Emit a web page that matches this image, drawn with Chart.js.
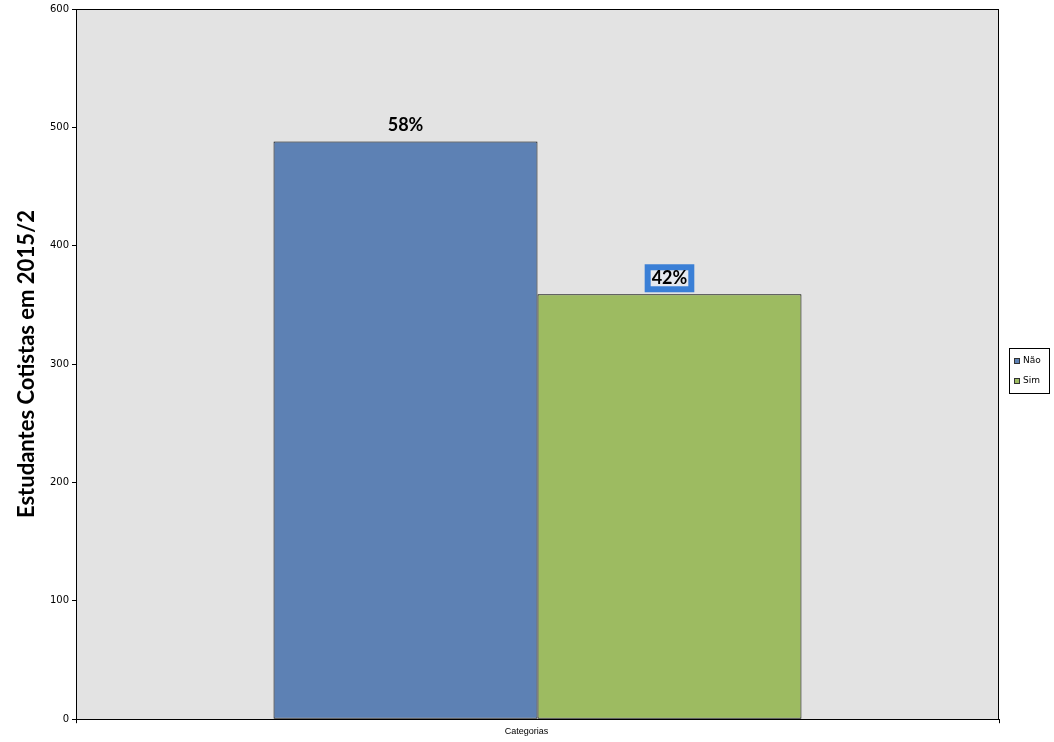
<!DOCTYPE html>
<html>
<head>
<meta charset="utf-8">
<script src="https://cdn.jsdelivr.net/npm/chart.js@4.4.1/dist/chart.umd.min.js"></script>
<style>
  html, body { margin: 0; padding: 0; background: #ffffff; }
  #wrap { width: 1054px; height: 742px; position: relative; }
</style>
</head>
<body>
<div id="wrap"><canvas id="chart"></canvas></div>
<script>
const categories = ['Categorias']
const seriesNames = ['Não', 'Sim']
const naoValues = [488]
const simValues = [359]
const yTicks = [0, 100, 200, 300, 400, 500, 600]

const COLORS = {
  nao: '#5d81b4',
  sim: '#9dbb61',
  plotBg: '#e3e3e3',
  highlight: '#3a7fd6',
  line: '#000000'
}

const total = naoValues[0] + simValues[0]

function pct(v) {
  return Math.round(v / total * 100) + '%'
}

// plot background + frame
const plotFrame = {
  id: 'plotFrame',
  beforeDraw(chart) {
    const { ctx, chartArea: a } = chart
    ctx.save()
    ctx.fillStyle = COLORS.plotBg
    ctx.fillRect(a.left, a.top, a.right - a.left, a.bottom - a.top)
    ctx.restore()
  },
  afterDraw(chart) {
    const { ctx, chartArea: a } = chart
    ctx.save()
    ctx.strokeStyle = COLORS.line
    ctx.lineWidth = 1
    ctx.strokeRect(Math.round(a.left) + 0.5, Math.round(a.top) + 0.5,
      Math.round(a.right - a.left) - 1, Math.round(a.bottom - a.top))
    ctx.restore()
  }
}

// percentage labels above bars
const pctLabels = {
  id: 'pctLabels',
  afterDatasetsDraw(chart) {
    const { ctx } = chart
    ctx.save()
    ctx.font = 'bold 18px Lato, "Open Sans", sans-serif'
    ctx.textAlign = 'center'
    ctx.textBaseline = 'middle'
    chart.data.datasets.forEach((ds, i) => {
      const bar = chart.getDatasetMeta(i).data[0]
      const text = pct(ds.data[0])
      const y = bar.y - 16
      if (i === 1) {
        const w = ctx.measureText(text).width
        ctx.fillStyle = COLORS.highlight
        ctx.fillRect(bar.x - w / 2 - 7, y - 14, w + 14, 28)
        ctx.fillStyle = '#e6e9ee'
        ctx.fillRect(bar.x - w / 2 - 1, y - 8, w + 2, 16)
      }
      ctx.fillStyle = '#000000'
      ctx.fillText(text, bar.x, y)
    })
    ctx.restore()
  }
}

// boxed legend at right
const boxLegend = {
  id: 'boxLegend',
  afterDraw(chart) {
    const { ctx, chartArea: a } = chart
    const left = Math.round(a.right) + 10
    const mid = Math.round((a.top + a.bottom) / 2) + 6
    const top = mid - 22
    ctx.save()
    ctx.strokeStyle = '#000000'
    ctx.lineWidth = 1
    ctx.strokeRect(left + 0.5, top + 0.5, 40, 45)
    ctx.font = '9px "DejaVu Sans", sans-serif'
    ctx.textBaseline = 'middle'
    ctx.textAlign = 'left'
    chart.data.datasets.forEach((ds, i) => {
      const cy = top + 13 + i * 20
      ctx.fillStyle = ds.backgroundColor
      ctx.fillRect(left + 5, cy - 3, 6, 6)
      ctx.strokeStyle = '#333333'
      ctx.strokeRect(left + 5.5, cy - 2.5, 5, 5)
      ctx.fillStyle = '#000000'
      ctx.fillText(ds.label, left + 14, cy)
    })
    ctx.restore()
  }
}

new Chart(document.getElementById('chart'), {
  type: 'bar',
  data: {
    labels: categories,
    datasets: [
      {
        label: seriesNames[0],
        data: naoValues,
        backgroundColor: COLORS.nao,
        borderColor: COLORS.line,
        borderWidth: 1,
        borderSkipped: false,
        categoryPercentage: 0.572,
        barPercentage: 1
      },
      {
        label: seriesNames[1],
        data: simValues,
        backgroundColor: COLORS.sim,
        borderColor: COLORS.line,
        borderWidth: 1,
        borderSkipped: false,
        categoryPercentage: 0.572,
        barPercentage: 1
      }
    ]
  },
  options: {
    responsive: true,
    maintainAspectRatio: false,
    animation: false,
    layout: { padding: { top: 5, right: 55, bottom: 2, left: 0 } },
    plugins: {
      legend: { display: false },
      tooltip: { enabled: false }
    },
    scales: {
      x: {
        grid: { drawOnChartArea: false, tickLength: 4, color: COLORS.line },
        border: { color: COLORS.line },
        ticks: {
          color: '#000000',
          padding: 3,
          labelOffset: -11,
          font: { family: '"Liberation Sans", sans-serif', size: 9 }
        }
      },
      y: {
        min: yTicks[0],
        max: yTicks[yTicks.length - 1],
        afterBuildTicks(scale) {
          scale.ticks = yTicks.map(v => ({ value: v }))
        },
        afterFit(scale) {
          scale.width = 76
        },
        grid: { drawOnChartArea: false, tickLength: 4, color: COLORS.line },
        border: { color: COLORS.line },
        ticks: {
          color: '#000000',
          padding: 3,
          font: { family: '"DejaVu Sans", sans-serif', size: 10 }
        },
        title: {
          display: true,
          text: 'Estudantes Cotistas em 2015/2',
          color: '#000000',
          padding: { top: 14, bottom: 0 },
          font: { family: 'Lato, "Open Sans", sans-serif', size: 22, weight: 'bold' }
        }
      }
    }
  },
  plugins: [plotFrame, pctLabels, boxLegend]
})
</script>
</body>
</html>
